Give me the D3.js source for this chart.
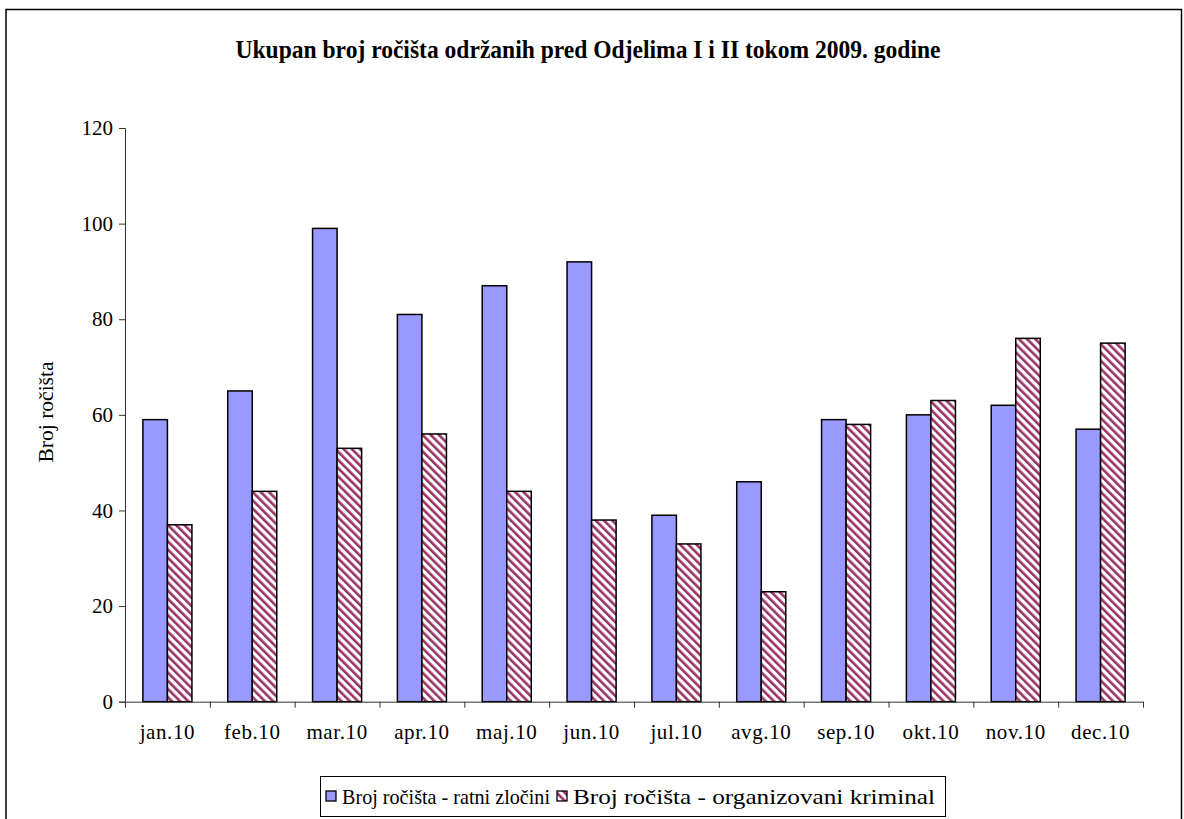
<!DOCTYPE html>
<html>
<head>
<meta charset="utf-8">
<script src="https://cdn.jsdelivr.net/npm/d3@7"></script>
<style>
  html, body { margin: 0; padding: 0; background: #fff; }
  svg { display: block; }
</style>
</head>
<body>
<svg id="chart" width="1184" height="819"></svg>
<script>
const categories = ["jan.10","feb.10","mar.10","apr.10","maj.10","jun.10","jul.10","avg.10","sep.10","okt.10","nov.10","dec.10"];
const ratniZlocini = [59, 65, 99, 81, 87, 92, 39, 46, 59, 60, 62, 57];
const organizovaniKriminal = [37, 44, 53, 56, 44, 38, 33, 23, 58, 63, 76, 75];
const seriesNames = ["Broj ro\u010Di\u0161ta - ratni zlo\u010Dini", "Broj ro\u010Di\u0161ta - organizovani kriminal"];
const yTicks = [0, 20, 40, 60, 80, 100, 120];
const titleText = "Ukupan broj ro\u010Di\u0161ta odr\u017Eanih pred Odjelima I i II tokom 2009. godine";
const yLabel = "Broj ro\u010Di\u0161ta";

(function () {
const FONT = "'Liberation Serif', 'DejaVu Serif', serif";
const svg = d3.select("#chart");
const pLeft = 125, pRight = 1143, pTop = 128, pBottom = 701.7;

// pattern
const defs = svg.append("defs");
const pat = defs.append("pattern")
  .attr("id", "hatch")
  .attr("patternUnits", "userSpaceOnUse")
  .attr("width", 5.8).attr("height", 10)
  .attr("patternTransform", "rotate(-45)");
pat.append("rect").attr("width", 5.8).attr("height", 10).attr("fill", "#fff");
pat.append("rect").attr("width", 2.6).attr("height", 10).attr("fill", "#993366");

// outer border (bottom cut off)
svg.append("path")
  .attr("d", d3.line()([[6, 830], [6, 9.5], [1181.5, 9.5], [1181.5, 830]]))
  .attr("fill", "none").attr("stroke", "#000").attr("stroke-width", 1.5);

// title
svg.append("text")
  .attr("x", 588).attr("y", 58)
  .attr("text-anchor", "middle")
  .style("font-family", FONT)
  .attr("font-size", 25).attr("font-weight", "bold")
  .attr("textLength", 705).attr("lengthAdjust", "spacingAndGlyphs")
  .text(titleText);

const x0 = d3.scaleBand().domain(categories).range([pLeft, pRight]).padding(0);
const x1 = d3.scaleBand().domain([0, 1]).range([0, x0.bandwidth()]).paddingInner(0).paddingOuter(0.73);
const y = d3.scaleLinear().domain([0, 120]).range([pBottom, pTop]);

// bars
const groups = svg.append("g").selectAll("g")
  .data(categories).join("g")
  .attr("transform", d => `translate(${x0(d)},0)`);

groups.append("rect")
  .attr("x", x1(0)).attr("width", x1.bandwidth())
  .attr("y", (d, i) => y(ratniZlocini[i]))
  .attr("height", (d, i) => y(0) - y(ratniZlocini[i]))
  .attr("fill", "#9999ff").attr("stroke", "#000").attr("stroke-width", 1.5);

groups.append("rect")
  .attr("x", x1(1)).attr("width", x1.bandwidth())
  .attr("y", (d, i) => y(organizovaniKriminal[i]))
  .attr("height", (d, i) => y(0) - y(organizovaniKriminal[i]))
  .attr("fill", "url(#hatch)").attr("stroke", "#000").attr("stroke-width", 1.5);

// y axis
const yAxis = svg.append("g")
  .attr("transform", `translate(${pLeft},0)`)
  .call(d3.axisLeft(y).tickValues(yTicks).tickSize(6).tickPadding(6));
yAxis.attr("font-size", 21).style("font-family", FONT);
yAxis.selectAll("text").attr("fill", "#000");
yAxis.selectAll("path, line").attr("stroke", "#333");

// x axis: boundary ticks
const xb = d3.scaleLinear().domain([0, categories.length]).range([pLeft, pRight]);
const xAxis = svg.append("g")
  .attr("transform", `translate(0,${pBottom})`)
  .call(d3.axisBottom(xb).tickValues(d3.range(categories.length + 1)).tickFormat("").tickSize(6).tickSizeOuter(0));
xAxis.selectAll("path, line").attr("stroke", "#333");

// x labels
svg.append("g").selectAll("text")
  .data(categories).join("text")
  .attr("x", d => x0(d) + x0.bandwidth() / 2)
  .attr("y", 739)
  .attr("text-anchor", "middle")
  .style("font-family", FONT)
  .attr("font-size", 21)
  .attr("letter-spacing", 0.6)
  .text(d => d);

// y label
svg.append("text")
  .attr("transform", "translate(53,412) rotate(-90)")
  .attr("text-anchor", "middle")
  .style("font-family", FONT)
  .attr("font-size", 21)
  .attr("textLength", 101).attr("lengthAdjust", "spacingAndGlyphs")
  .text(yLabel);

// legend
const lg = svg.append("g");
lg.append("rect").attr("x", 320.5).attr("y", 776.5).attr("width", 625).attr("height", 40)
  .attr("fill", "#fff").attr("stroke", "#000").attr("stroke-width", 1);
const legendX = [326, 557];
const legendLen = [208, 362];
const legendFill = ["#9999ff", "url(#hatch)"];
seriesNames.forEach((name, i) => {
  lg.append("rect").attr("x", legendX[i]).attr("y", 791).attr("width", 10).attr("height", 10)
    .attr("fill", legendFill[i]).attr("stroke", "#000").attr("stroke-width", 1.3);
  lg.append("text").attr("x", legendX[i] + 16).attr("y", 804)
    .style("font-family", FONT)
    .attr("font-size", 21)
    .attr("textLength", legendLen[i]).attr("lengthAdjust", "spacingAndGlyphs")
    .text(name);
});
})();
</script>
</body>
</html>
